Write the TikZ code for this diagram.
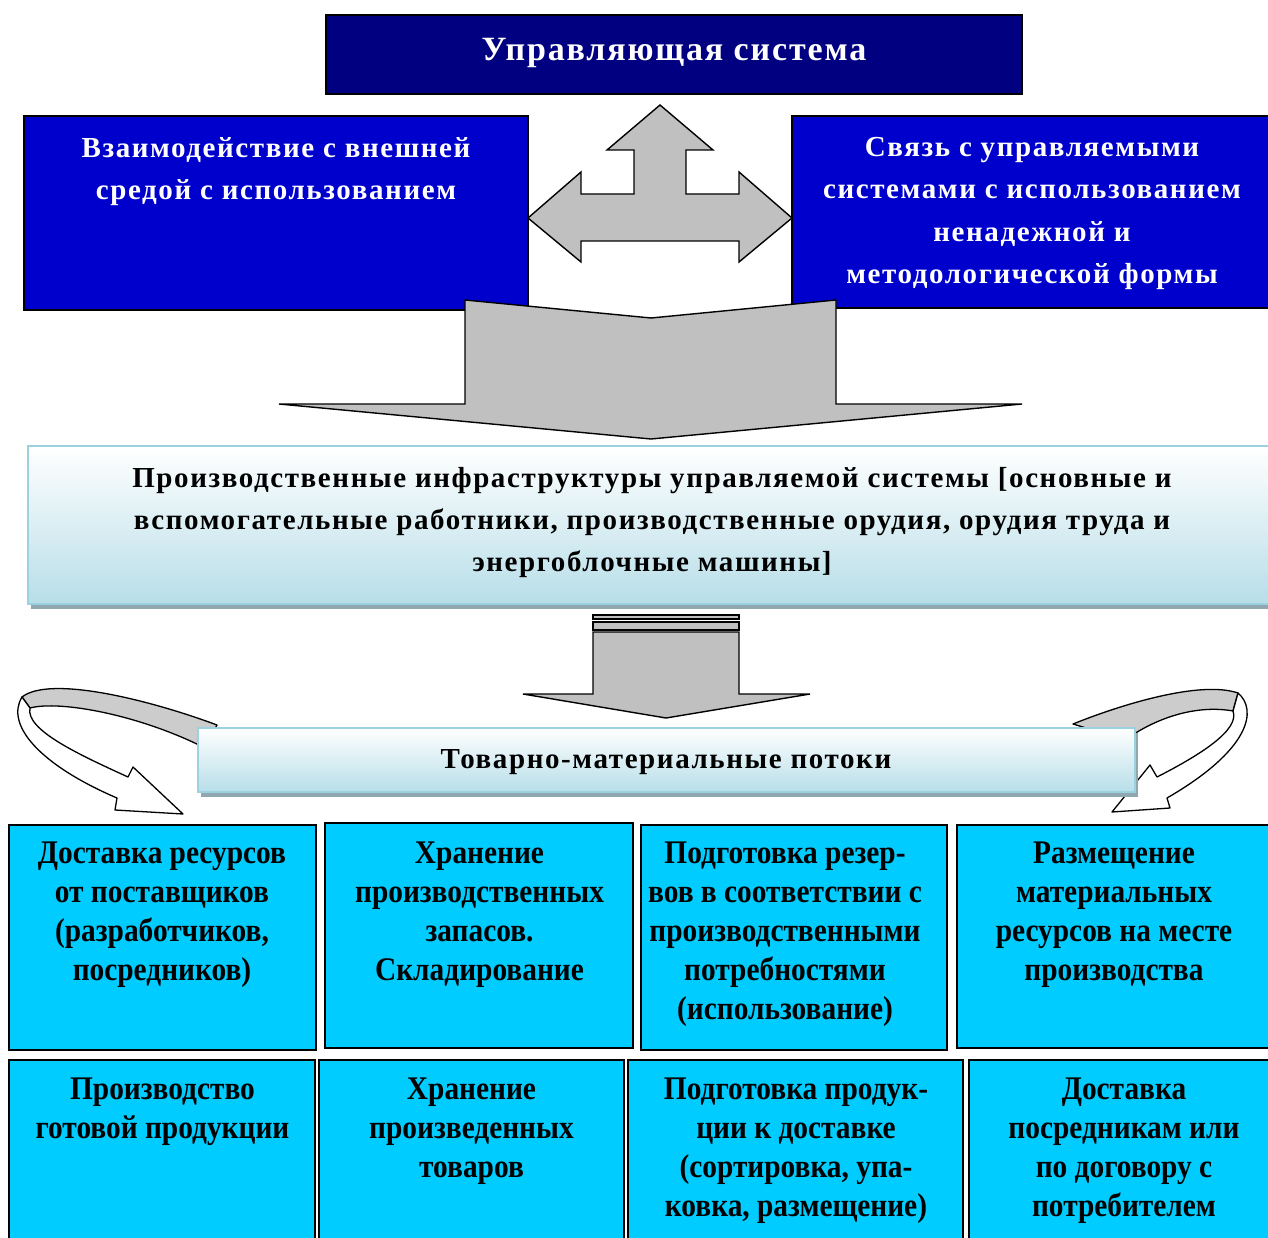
\documentclass[tikz,border=0pt]{standalone}
\usepackage{fontspec}
\setmainfont{Liberation Serif}
\newfontfamily\condserif[FakeStretch=0.89]{Liberation Serif}
\newfontfamily\spacedserif[LetterSpace=5.5]{Liberation Serif}
\usetikzlibrary{calc}
\definecolor{navy}{HTML}{000080}
\definecolor{royal}{HTML}{0000CC}
\definecolor{skyc}{HTML}{00CCFF}
\definecolor{arrowgray}{HTML}{C0C0C0}
\definecolor{ribbongray}{HTML}{CCCCCC}
\definecolor{gradbot}{HTML}{B7DEE8}
\definecolor{gradedge}{HTML}{9CD2E0}
\definecolor{shadowc}{HTML}{8FA7AE}
\tikzset{
  box/.style={draw=black, line width=1.5pt, anchor=north west, inner sep=0pt, outer sep=0pt},
  arrowfill/.style={draw=black, line width=1.4pt, fill=arrowgray, line join=miter},
  ribbon/.style={draw=black, line width=1.3pt, line join=round},
  wtxt/.style={text=white, align=center, font=\spacedserif\bfseries\fontsize{29}{42.4}\selectfont, inner sep=0pt},
  btxt/.style={text=black, align=center, font=\spacedserif\bfseries\fontsize{29}{42.4}\selectfont, inner sep=0pt},
  ctxt/.style={text=black, align=center, font=\condserif\bfseries\fontsize{33}{39}\selectfont, inner sep=0pt},
}
\begin{document}
\begin{tikzpicture}[x=1pt,y=-1pt]
\useasboundingbox (0,0) rectangle (1268,1238);
\fill[white] (0,0) rectangle (1268,1238);

% top box
\node[box, fill=navy, minimum width=696pt, minimum height=79pt] (top) at (326,15) {};
\node[text=white, font=\spacedserif\bfseries\fontsize{34}{40}\selectfont, inner sep=0pt] (toptxt) at (674,53) {Управляющая система};

% blue boxes
\node[box, fill=royal, minimum width=504pt, minimum height=194pt] (lb) at (24,116) {};
\node[box, fill=royal, minimum width=480pt, minimum height=192pt] (rb) at (792,116) {};
\node[wtxt] (lbt) at (276,171.5) {Взаимодействие с внешней\\средой с использованием};
\node[wtxt] (rbt) at (1032,213.5) {Связь с управляемыми\\системами с использованием\\ненадежной и\\методологической формы};

% three-way arrow
\draw[arrowfill] (528,218) -- (581,172) -- (581,194) -- (634,194) -- (634,150) -- (607,150) -- (660,105) -- (713,150) -- (686,150) -- (686,194) -- (739,194) -- (739,172) -- (792,218) -- (739,262) -- (739,241) -- (581,241) -- (581,262) -- cycle;

% big down arrow
\draw[arrowfill] (465,300) -- (651,318) -- (836,300) -- (836,404) -- (1022,404) -- (651,439) -- (279,404) -- (465,404) -- cycle;

% middle gradient box
\fill[shadowc] (31,451) rectangle (1272,609);
\shade[top color=white, bottom color=gradbot, draw=gradedge, line width=2pt] (28,446) rectangle (1272,604);
\node[btxt] (mid) at (652,522.5) {Производственные инфраструктуры управляемой системы [основные и\\вспомогательные работники, производственные орудия, орудия труда и\\энергоблочные машины]};

% small down arrow
\draw[arrowfill, line width=1.2pt] (593,615) rectangle (739,619);
\draw[arrowfill, line width=1.2pt] (593,622) rectangle (739,630);
\draw[arrowfill] (593,632) -- (593,694) -- (523,694) -- (666,718) -- (810,694) -- (739,694) -- (739,632) -- cycle;

% left curved ribbon arrow
\draw[ribbon, fill=ribbongray] (217,725) .. controls (150,700) and (50,675) .. (22,697) -- (30,708) .. controls (60,700) and (140,715) .. (205,748) -- cycle;
\draw[ribbon, fill=white] (22,697) .. controls (5,725) and (40,765) .. (117,798) -- (115,810) -- (183,814) -- (133,767) -- (128,777) .. controls (80,755) and (25,730) .. (30,708) -- cycle;

% right curved ribbon arrow
\draw[ribbon, fill=ribbongray] (1073,724) .. controls (1120,705) and (1200,680) .. (1238,693) -- (1233,711) .. controls (1200,705) and (1160,715) .. (1125,740) -- cycle;
\draw[ribbon, fill=white] (1238,693) .. controls (1258,710) and (1250,750) .. (1167,798) -- (1170,808) -- (1112,812) -- (1150,765) -- (1157,777) .. controls (1200,755) and (1240,730) .. (1233,711) -- cycle;

% flows box
\fill[shadowc] (201,733) rectangle (1138,797);
\shade[top color=white, bottom color=gradbot, draw=gradedge, line width=2pt] (198,728) rectangle (1135,792);
\node[btxt] (flow) at (666,762) {Товарно-материальные потоки};

% row 1
\node[box, fill=skyc, minimum width=307pt, minimum height=225pt] (a1) at (9,825) {};
\node[box, fill=skyc, minimum width=308pt, minimum height=225pt] (a2) at (325,823) {};
\node[box, fill=skyc, minimum width=306pt, minimum height=225pt] (a3) at (641,825) {};
\node[box, fill=skyc, minimum width=320pt, minimum height=223pt] (a4) at (957,825) {};
\node[ctxt] (a1t) at (162,914.5) {Доставка ресурсов\\от поставщиков\\(разработчиков,\\посредников)};
\node[ctxt] (a2t) at (479.5,914.5) {Хранение\\производственных\\запасов.\\Складирование};
\node[ctxt] (a3t) at (785,934) {Подготовка резер-\\вов в соответствии с\\производственными\\потребностями\\(использование)};
\node[ctxt] (a4t) at (1114,914.5) {Размещение\\материальных\\ресурсов на месте\\производства};

% row 2
\node[box, fill=skyc, minimum width=306pt, minimum height=200pt] (b1) at (9,1060) {};
\node[box, fill=skyc, minimum width=305pt, minimum height=200pt] (b2) at (319,1060) {};
\node[box, fill=skyc, minimum width=335pt, minimum height=200pt] (b3) at (628,1060) {};
\node[box, fill=skyc, minimum width=310pt, minimum height=200pt] (b4) at (969,1060) {};
\node[ctxt] (b1t) at (162.5,1112) {Производство\\готовой продукции};
\node[ctxt] (b2t) at (471.5,1131) {Хранение\\произведенных\\товаров};
\node[ctxt] (b3t) at (796,1150.5) {Подготовка продук-\\ции к доставке\\(сортировка, упа-\\ковка, размещение)};
\node[ctxt] (b4t) at (1124,1150.5) {Доставка\\посредникам или\\по договору с\\потребителем};
\end{tikzpicture}
\end{document}
